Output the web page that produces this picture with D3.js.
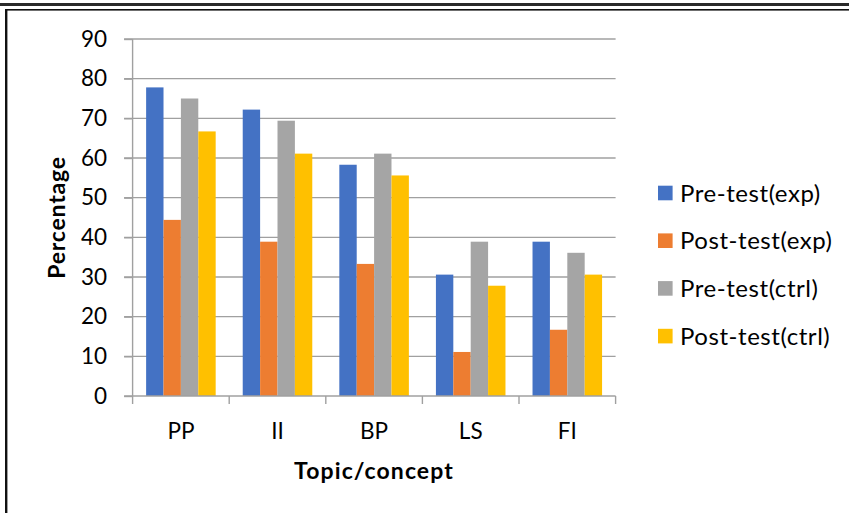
<!DOCTYPE html>
<html>
<head>
<meta charset="utf-8">
<script src="https://cdn.jsdelivr.net/npm/d3@7/dist/d3.min.js"></script>
<style>
  html, body { margin: 0; padding: 0; background: #fff; }
  svg { display: block; }
  text { font-family: Lato, "Open Sans", sans-serif; fill: #000; }
</style>
</head>
<body>
<svg id="chart" width="849" height="513"></svg>
<script>
// Topics and series
const categories = ["PP", "II", "BP", "LS", "FI"];
const seriesNames = ["Pre-test(exp)", "Post-test(exp)", "Pre-test(ctrl)", "Post-test(ctrl)"];
const preExp   = [77.8, 72.2, 58.3, 30.6, 38.9];
const postExp  = [44.4, 38.9, 33.3, 11.1, 16.7];
const preCtrl  = [75.0, 69.4, 61.1, 38.9, 36.1];
const postCtrl = [66.7, 61.1, 55.6, 27.8, 30.6];
const yTicks = [0, 10, 20, 30, 40, 50, 60, 70, 80, 90];
const colors = ["#4472C4", "#ED7D31", "#A5A5A5", "#FFC000"];

const seriesValues = [preExp, postExp, preCtrl, postCtrl];

const svg = d3.select("#chart");
const W = 849, H = 513;

// Frame lines
svg.append("rect").attr("x", 0).attr("y", 3).attr("width", W).attr("height", 3).attr("fill", "#2a2a2a");
svg.append("rect").attr("x", 5).attr("y", 9).attr("width", W - 5).attr("height", 1.6).attr("fill", "#111");
svg.append("rect").attr("x", 5).attr("y", 9).attr("width", 2.4).attr("height", H - 9).attr("fill", "#111");

const plot = { left: 132.6, right: 615.6, top: 39, bottom: 396 };

const x = d3.scaleBand().domain(categories).range([plot.left, plot.right]).paddingInner(0).paddingOuter(0);
const gap = x.bandwidth() * 0.14;
const xs = d3.scaleBand().domain(seriesNames).range([gap, x.bandwidth() - gap]).padding(0);
const y = d3.scaleLinear().domain([0, 90]).range([plot.bottom, plot.top]);

const gridColor = "#a0a0a0";

// Horizontal gridlines with tick stubs to the left of the axis
svg.append("g")
  .selectAll("line")
  .data(yTicks.filter(t => t > 0))
  .join("line")
  .attr("x1", plot.left - 8.5).attr("x2", plot.right)
  .attr("y1", d => y(d)).attr("y2", d => y(d))
  .attr("stroke", gridColor).attr("stroke-width", 1.4);

// Bars
const groups = svg.append("g")
  .selectAll("g")
  .data(seriesNames.map((name, i) => ({ name, i, values: seriesValues[i] })))
  .join("g")
  .attr("fill", d => colors[d.i]);

groups.selectAll("rect")
  .data(d => d.values.map((v, j) => ({ name: d.name, cat: categories[j], v })))
  .join("rect")
  .attr("x", d => x(d.cat) + xs(d.name))
  .attr("width", xs.bandwidth())
  .attr("y", d => y(d.v))
  .attr("height", d => y(0) - y(d.v));

// Y axis
const yAxis = svg.append("g")
  .attr("transform", `translate(${plot.left},0)`)
  .call(d3.axisLeft(y).tickValues(yTicks).tickSize(8.5).tickPadding(17).tickFormat(d3.format("d")));
yAxis.select(".domain").attr("stroke", gridColor).attr("stroke-width", 1.4)
  .attr("d", `M0,${plot.top}V${plot.bottom}`);
yAxis.selectAll(".tick line").attr("stroke", gridColor).attr("stroke-width", 1.4);
yAxis.selectAll(".tick text").attr("font-size", 22.5).attr("font-family", "Lato, sans-serif").attr("fill", "#000");

// X axis: labels centred in each band, tick marks at band boundaries
const xAxis = svg.append("g")
  .attr("transform", `translate(0,${plot.bottom})`)
  .call(d3.axisBottom(x).tickSize(0).tickPadding(27));
xAxis.select(".domain").attr("stroke", gridColor).attr("stroke-width", 1.4)
  .attr("d", `M${plot.left - 8.5},0H${plot.right}`);
xAxis.selectAll(".tick text").attr("font-size", 22.5).attr("font-family", "Lato, sans-serif").attr("fill", "#000");

const bounds = categories.map(c => x(c)).concat([plot.right]);
svg.append("g")
  .selectAll("line")
  .data(bounds)
  .join("line")
  .attr("x1", d => d).attr("x2", d => d)
  .attr("y1", plot.bottom).attr("y2", plot.bottom + 8)
  .attr("stroke", gridColor).attr("stroke-width", 1.4);

// Axis titles
svg.append("text")
  .attr("x", 374).attr("y", 478.5)
  .attr("text-anchor", "middle")
  .attr("font-size", 23).attr("font-weight", "bold")
  .attr("letter-spacing", 1.1)
  .text("Topic/concept");

svg.append("text")
  .attr("transform", `translate(64.5,${(plot.top + plot.bottom) / 2}) rotate(-90)`)
  .attr("text-anchor", "middle")
  .attr("font-size", 23).attr("font-weight", "bold")
  .attr("letter-spacing", 0.8)
  .text("Percentage");

// Legend
const legend = svg.append("g")
  .selectAll("g")
  .data(seriesNames)
  .join("g")
  .attr("transform", (d, i) => `translate(658,${193 + i * 47.7})`);

legend.append("rect")
  .attr("x", 0).attr("y", -7.3)
  .attr("width", 14.6).attr("height", 14.6)
  .attr("fill", (d, i) => colors[i]);

legend.append("text")
  .attr("x", 22).attr("y", 8.5)
  .attr("font-size", 24)
  .attr("letter-spacing", 0.55)
  .text(d => d);
</script>
</body>
</html>
